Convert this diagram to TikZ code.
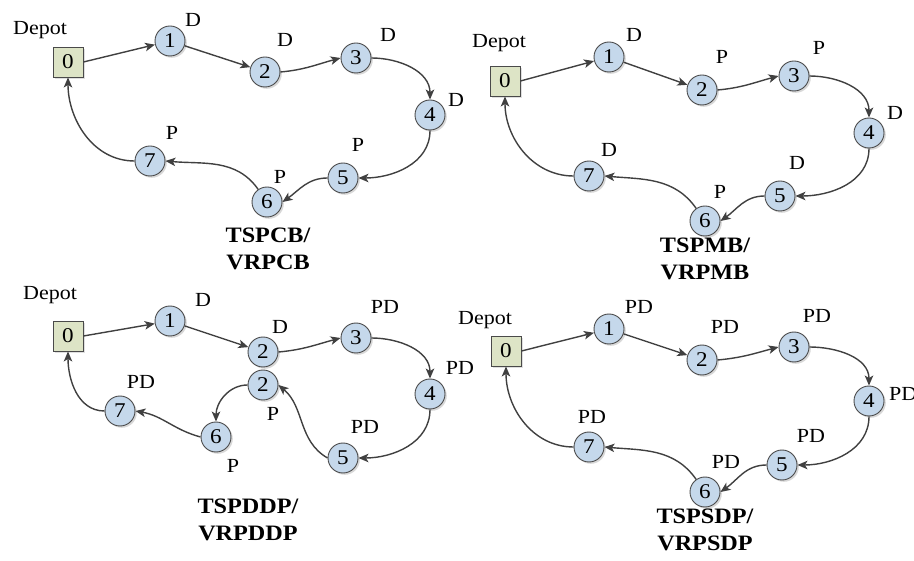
\documentclass[tikz,border=0pt]{standalone}
\usepackage{fontspec}
\setmainfont{Liberation Serif}
\usetikzlibrary{arrows.meta,shadows}
\definecolor{nodeblue}{HTML}{C5D8EB}
\definecolor{depotfill}{HTML}{DDE4C6}
\definecolor{rimc}{HTML}{4A4A4A}
\definecolor{arrowc}{HTML}{404040}
\newcommand{\hs}[1]{\scalebox{1.1}[1]{#1}}
\tikzset{
  cnode/.style={circle, draw=rimc, fill=nodeblue, line width=0.9pt, minimum size=30pt, inner sep=0pt,
    font=\fontsize{21}{22}\selectfont,
    drop shadow={shadow xshift=1.8pt, shadow yshift=-1.8pt, fill=black!30}},
  dnode/.style={rectangle, draw=rimc, fill=depotfill, line width=0.9pt, minimum size=30pt, inner sep=0pt,
    font=\fontsize{21}{22}\selectfont,
    drop shadow={shadow xshift=2pt, shadow yshift=-2pt, fill=black!25}},
  lbl/.style={font=\fontsize{20}{22}\selectfont, inner sep=0pt},
  ttl/.style={font=\bfseries\fontsize{22}{27}\selectfont, align=center, inner sep=0pt},
  route/.style={draw=arrowc, line width=1.4pt, -{Stealth[length=10pt,width=8.5pt,inset=2.5pt]}},
}
\begin{document}
\begin{tikzpicture}[x=1pt,y=1pt]
\useasboundingbox (0,0) rectangle (914,-561);

% ---------- TSPCB / VRPCB ----------
\node[dnode] (a0) at (68,-62) {\hs{0}};
\node[cnode] (a1) at (170,-41) {\hs{1}};
\node[cnode] (a2) at (265,-72) {\hs{2}};
\node[cnode] (a3) at (356,-58) {\hs{3}};
\node[cnode] (a4) at (430,-115) {\hs{4}};
\node[cnode] (a5) at (343,-178) {\hs{5}};
\node[cnode] (a6) at (267,-202) {\hs{6}};
\node[cnode] (a7) at (150,-161) {\hs{7}};
\node[lbl] (aL0) at (40,-30) {\hs{Depot}};
\node[lbl] (aL1) at (193,-20) {\hs{D}};
\node[lbl] (aL2) at (285,-40) {\hs{D}};
\node[lbl] (aL3) at (388,-35) {\hs{D}};
\node[lbl] (aL4) at (456,-100) {\hs{D}};
\node[lbl] (aL5) at (358,-145) {\hs{P}};
\node[lbl] (aL6) at (280,-177) {\hs{P}};
\node[lbl] (aL7) at (172,-133) {\hs{P}};
\node[ttl] (aT) at (268,-249) {\hs{TSPCB/}\\\hs{VRPCB}};
\draw[route] (a0.east) -- (a1);
\draw[route] (a1) -- (a2);
\draw[route] (a2.east) to[out=5,in=195] (a3.west);
\draw[route] (a3.east) to[out=0,in=90] (a4.north);
\draw[route] (a4.south) to[out=-90,in=0] (a5.east);
\draw[route] (a5.west) to[out=180,in=35] (a6.east);
\draw[route] (a6.125) to[out=125,in=-5] (a7.east);
\draw[route] (a7.west) to[out=180,in=-90] (a0.south);

% ---------- TSPMB / VRPMB ----------
\node[dnode] (b0) at (505,-81) {\hs{0}};
\node[cnode] (b1) at (609,-57) {\hs{1}};
\node[cnode] (b2) at (702,-90) {\hs{2}};
\node[cnode] (b3) at (794,-76) {\hs{3}};
\node[cnode] (b4) at (869,-133) {\hs{4}};
\node[cnode] (b5) at (780,-196) {\hs{5}};
\node[cnode] (b6) at (705,-221) {\hs{6}};
\node[cnode] (b7) at (589,-176) {\hs{7}};
\node[lbl] (bL0) at (499,-43) {\hs{Depot}};
\node[lbl] (bL1) at (634,-35) {\hs{D}};
\node[lbl] (bL2) at (722,-57) {\hs{P}};
\node[lbl] (bL3) at (819,-48) {\hs{P}};
\node[lbl] (bL4) at (895,-113) {\hs{D}};
\node[lbl] (bL5) at (797,-163) {\hs{D}};
\node[lbl] (bL6) at (720,-192) {\hs{P}};
\node[lbl] (bL7) at (609,-150) {\hs{D}};
\node[ttl] (bT) at (705,-259) {\hs{TSPMB/}\\\hs{VRPMB}};
\draw[route] (b0.east) -- (b1);
\draw[route] (b1) -- (b2);
\draw[route] (b2.east) to[out=5,in=195] (b3.west);
\draw[route] (b3.east) to[out=0,in=90] (b4.north);
\draw[route] (b4.south) to[out=-90,in=0] (b5.east);
\draw[route] (b5.west) to[out=180,in=35] (b6.east);
\draw[route] (b6.125) to[out=125,in=-5] (b7.east);
\draw[route] (b7.west) to[out=180,in=-90] (b0.south);

% ---------- TSPDDP / VRPDDP ----------
\node[dnode] (c0) at (68,-336) {\hs{0}};
\node[cnode] (c1) at (170,-321) {\hs{1}};
\node[cnode] (c2) at (263,-352) {\hs{2}};
\node[cnode] (c3) at (356,-338) {\hs{3}};
\node[cnode] (c4) at (430,-394) {\hs{4}};
\node[cnode] (c5) at (343,-458) {\hs{5}};
\node[cnode] (c2b) at (263,-385) {\hs{2}};
\node[cnode] (c6) at (216,-437) {\hs{6}};
\node[cnode] (c7) at (120,-411) {\hs{7}};
\node[lbl] (cL0) at (50,-295) {\hs{Depot}};
\node[lbl] (cL1) at (203,-300) {\hs{D}};
\node[lbl] (cL2) at (280,-327) {\hs{D}};
\node[lbl] (cL3) at (385,-307) {\hs{PD}};
\node[lbl] (cL4) at (460,-368) {\hs{PD}};
\node[lbl] (cL5) at (365,-427) {\hs{PD}};
\node[lbl] (cL2b) at (273,-414) {\hs{P}};
\node[lbl] (cL6) at (233,-466) {\hs{P}};
\node[lbl] (cL7) at (141,-382) {\hs{PD}};
\node[ttl] (cT) at (248,-520) {\hs{TSPDDP/}\\\hs{VRPDDP}};
\draw[route] (c0.east) -- (c1);
\draw[route] (c1) -- (c2);
\draw[route] (c2.east) to[out=5,in=195] (c3.west);
\draw[route] (c3.east) to[out=0,in=90] (c4.north);
\draw[route] (c4.south) to[out=-90,in=0] (c5.east);
\draw[route] (c5.west) to[out=150,in=-40] (c2b.east);
\draw[route] (c2b.west) to[out=180,in=90] (c6.north);
\draw[route] (c6.west) to[out=165,in=-10] (c7.east);
\draw[route] (c7.west) to[out=180,in=-90] (c0.south);

% ---------- TSPSDP / VRPSDP ----------
\node[dnode] (d0) at (506,-351) {\hs{0}};
\node[cnode] (d1) at (609,-329) {\hs{1}};
\node[cnode] (d2) at (702,-360) {\hs{2}};
\node[cnode] (d3) at (794,-347) {\hs{3}};
\node[cnode] (d4) at (869,-401) {\hs{4}};
\node[cnode] (d5) at (782,-465) {\hs{5}};
\node[cnode] (d6) at (705,-492) {\hs{6}};
\node[cnode] (d7) at (589,-447) {\hs{7}};
\node[lbl] (dL0) at (485,-320) {\hs{Depot}};
\node[lbl] (dL1) at (639,-307) {\hs{PD}};
\node[lbl] (dL2) at (725,-327) {\hs{PD}};
\node[lbl] (dL3) at (817,-316) {\hs{PD}};
\node[lbl,anchor=west] (dL4) at (889,-394) {\hs{PD}};
\node[lbl] (dL5) at (811,-436) {\hs{PD}};
\node[lbl] (dL6) at (726,-462) {\hs{PD}};
\node[lbl] (dL7) at (592,-417) {\hs{PD}};
\node[ttl] (dT) at (705,-530) {\hs{TSPSDP/}\\\hs{VRPSDP}};
\draw[route] (d0.east) -- (d1);
\draw[route] (d1) -- (d2);
\draw[route] (d2.east) to[out=5,in=195] (d3.west);
\draw[route] (d3.east) to[out=0,in=90] (d4.north);
\draw[route] (d4.south) to[out=-90,in=0] (d5.east);
\draw[route] (d5.west) to[out=180,in=35] (d6.east);
\draw[route] (d6.125) to[out=125,in=-5] (d7.east);
\draw[route] (d7.west) to[out=180,in=-90] (d0.south);
\end{tikzpicture}
\end{document}
